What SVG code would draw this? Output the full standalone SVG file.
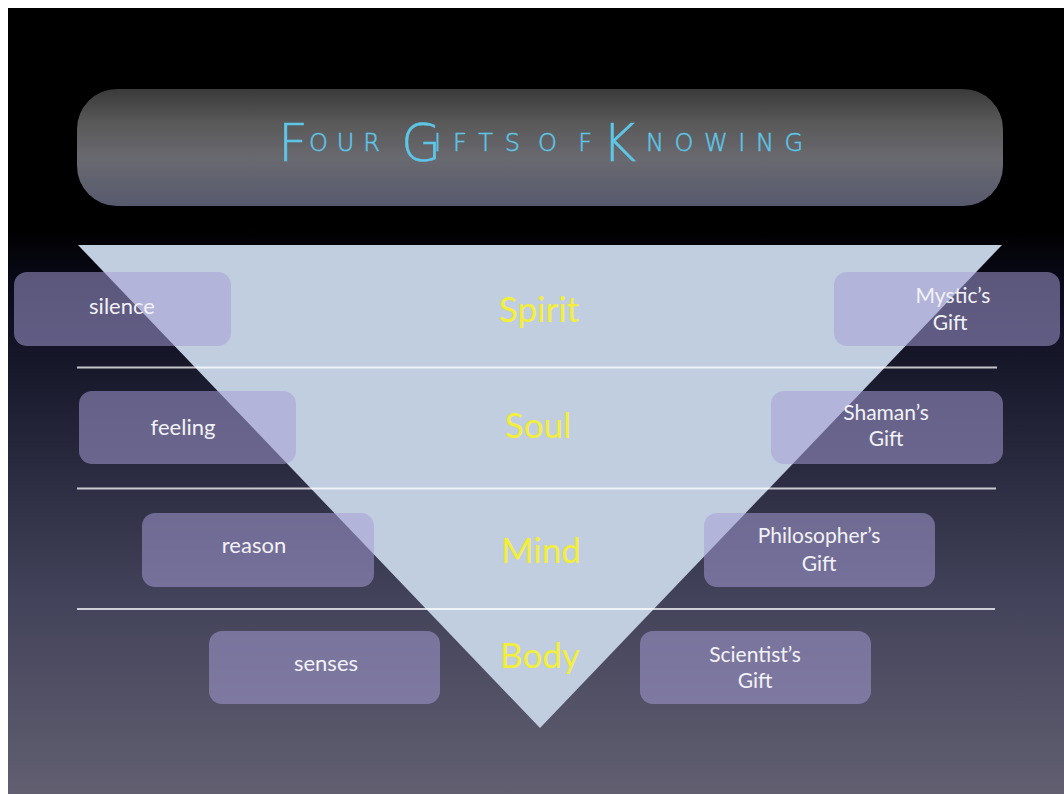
<svg xmlns="http://www.w3.org/2000/svg" width="1064" height="794" viewBox="0 0 1064 794">
  <defs>
    <linearGradient id="bg" x1="0" y1="8" x2="0" y2="794" gradientUnits="userSpaceOnUse">
      <stop offset="0" stop-color="#000000"/>
      <stop offset="0.28" stop-color="#000000"/>
      <stop offset="0.36" stop-color="#0b0b1c"/>
      <stop offset="0.55" stop-color="#25253a"/>
      <stop offset="0.75" stop-color="#42425a"/>
      <stop offset="1" stop-color="#615f70"/>
    </linearGradient>
    <linearGradient id="titleGrad" x1="0" y1="89" x2="0" y2="206" gradientUnits="userSpaceOnUse">
      <stop offset="0" stop-color="#3a3a3a"/>
      <stop offset="0.3" stop-color="#5a5a5a"/>
      <stop offset="0.6" stop-color="#696970"/>
      <stop offset="1" stop-color="#575a6e"/>
    </linearGradient>
    <style>
      .box { fill: #a69dd5; fill-opacity: 0.53; }
      .lbl { font-family: "Lato", "Open Sans", sans-serif; font-size: 22px; fill: #f2f2f6; text-anchor: middle; }
      .lbl2 { font-size: 21px; }
      .lvl { font-family: "Lato", "Open Sans", sans-serif; font-size: 35px; fill: #f3ee3a; text-anchor: middle; }
      .sep { stroke: #ffffff; stroke-opacity: 0.75; stroke-width: 2; }
      .ttl { font-family: "DejaVu Sans", "Lato", sans-serif; font-weight: 200; fill: #5ec6e6; stroke: #5ec6e6; stroke-width: 0.5; }
      .big { font-size: 52px; }
      .sm { font-size: 24px; }
    </style>
  </defs>

  <rect x="0" y="0" width="1064" height="794" fill="#ffffff"/>
  <rect x="8" y="8" width="1056" height="786" fill="url(#bg)"/>

  <g id="title">
    <rect x="77" y="89" width="926" height="117" rx="40" ry="40" fill="url(#titleGrad)"/>
    <text class="ttl">
      <tspan class="big" x="278" y="160.5">F</tspan>
      <tspan class="sm" x="309" y="150.5" textLength="71" lengthAdjust="spacing">OUR</tspan>
      <tspan class="big" x="401" y="160.5">G</tspan>
      <tspan class="sm" x="434" y="150.5" textLength="86" lengthAdjust="spacing">IFTS</tspan>
      <tspan class="sm" x="538" y="150.5" textLength="54" lengthAdjust="spacing">OF</tspan>
      <tspan class="big" x="602" y="160.5">K</tspan>
      <tspan class="sm" x="646" y="150.5" textLength="157" lengthAdjust="spacing">NOWING</tspan>
    </text>
  </g>

  <g id="pyramid">
    <polygon points="78,245 1002,245 540,728" fill="#c1cedf"/>
  </g>

  <g id="connectors">
    <line class="sep" x1="77" y1="367.5" x2="997" y2="367.5"/>
    <line class="sep" x1="77" y1="488.5" x2="996" y2="488.5"/>
    <line class="sep" x1="77" y1="609" x2="995" y2="609"/>
  </g>

  <g id="level-spirit"><text class="lvl" x="539" y="322">Spirit</text></g>
  <g id="level-soul"><text class="lvl" x="538" y="438">Soul</text></g>
  <g id="level-mind"><text class="lvl" x="541" y="562.5">Mind</text></g>
  <g id="level-body"><text class="lvl" x="540" y="667.5">Body</text></g>

  <g id="node-silence">
    <rect class="box" x="14" y="272" width="217" height="74" rx="13"/>
    <text class="lbl" x="122" y="314">silence</text>
  </g>
  <g id="node-mystic">
    <rect class="box" x="834" y="272" width="226" height="74" rx="13"/>
    <text class="lbl lbl2" x="953" y="303">Mystic’s</text>
    <text class="lbl lbl2" x="950" y="330">Gift</text>
  </g>
  <g id="node-feeling">
    <rect class="box" x="79" y="391" width="217" height="73" rx="13"/>
    <text class="lbl" x="183" y="435">feeling</text>
  </g>
  <g id="node-shaman">
    <rect class="box" x="771" y="391" width="232" height="73" rx="13"/>
    <text class="lbl lbl2" x="886" y="420">Shaman’s</text>
    <text class="lbl lbl2" x="886" y="446">Gift</text>
  </g>
  <g id="node-reason">
    <rect class="box" x="142" y="513" width="232" height="74" rx="13"/>
    <text class="lbl" x="254" y="553">reason</text>
  </g>
  <g id="node-philosopher">
    <rect class="box" x="704" y="513" width="231" height="74" rx="13"/>
    <text class="lbl lbl2" x="819" y="543">Philosopher’s</text>
    <text class="lbl lbl2" x="819" y="571">Gift</text>
  </g>
  <g id="node-senses">
    <rect class="box" x="209" y="631" width="231" height="73" rx="13"/>
    <text class="lbl" x="326" y="671">senses</text>
  </g>
  <g id="node-scientist">
    <rect class="box" x="640" y="631" width="231" height="73" rx="13"/>
    <text class="lbl lbl2" x="755" y="661.5">Scientist’s</text>
    <text class="lbl lbl2" x="755" y="688">Gift</text>
  </g>
</svg>
